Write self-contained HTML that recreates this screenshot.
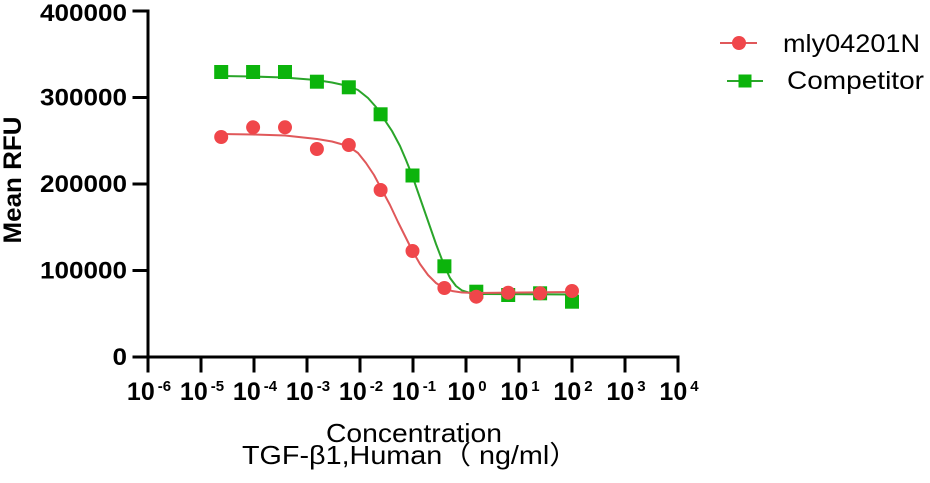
<!DOCTYPE html>
<html>
<head>
<meta charset="utf-8">
<style>
html,body{margin:0;padding:0;background:#fff;}
svg{display:block;}
text{font-family:"Liberation Sans","Noto Sans CJK SC",Arial,sans-serif;fill:#000;}
</style>
</head>
<body>
<svg width="930" height="483" viewBox="0 0 930 483" xmlns="http://www.w3.org/2000/svg">
  <!-- axes -->
  <g stroke="#000" stroke-width="3" fill="none" stroke-linecap="square">
    <line x1="148" y1="11" x2="148" y2="357"/>
    <line x1="148" y1="357" x2="678" y2="357"/>
    <line x1="134" y1="11" x2="148" y2="11"/>
    <line x1="134" y1="97.5" x2="148" y2="97.5"/>
    <line x1="134" y1="184" x2="148" y2="184"/>
    <line x1="134" y1="270.5" x2="148" y2="270.5"/>
    <line x1="134" y1="357" x2="148" y2="357"/>
    <line x1="148" y1="357" x2="148" y2="371"/>
    <line x1="201" y1="357" x2="201" y2="371"/>
    <line x1="254" y1="357" x2="254" y2="371"/>
    <line x1="307" y1="357" x2="307" y2="371"/>
    <line x1="360" y1="357" x2="360" y2="371"/>
    <line x1="413" y1="357" x2="413" y2="371"/>
    <line x1="466" y1="357" x2="466" y2="371"/>
    <line x1="519" y1="357" x2="519" y2="371"/>
    <line x1="572" y1="357" x2="572" y2="371"/>
    <line x1="625" y1="357" x2="625" y2="371"/>
    <line x1="678" y1="357" x2="678" y2="371"/>
  </g>

  <!-- y tick labels -->
  <g font-size="24" font-weight="bold" text-anchor="end">
    <text x="127" y="21" textLength="87" lengthAdjust="spacingAndGlyphs">400000</text>
    <text x="127" y="105.5" textLength="87" lengthAdjust="spacingAndGlyphs">300000</text>
    <text x="127" y="192" textLength="87" lengthAdjust="spacingAndGlyphs">200000</text>
    <text x="127" y="278.5" textLength="87" lengthAdjust="spacingAndGlyphs">100000</text>
    <text x="127" y="365" textLength="14.5" lengthAdjust="spacingAndGlyphs">0</text>
  </g>

  <!-- x tick labels -->
  <g font-size="25" font-weight="bold" text-anchor="middle">
    <text x="149" y="400">10<tspan dx="3" dy="-9" font-size="15">-6</tspan></text>
    <text x="202" y="400">10<tspan dx="3" dy="-9" font-size="15">-5</tspan></text>
    <text x="255" y="400">10<tspan dx="3" dy="-9" font-size="15">-4</tspan></text>
    <text x="308" y="400">10<tspan dx="3" dy="-9" font-size="15">-3</tspan></text>
    <text x="361" y="400">10<tspan dx="3" dy="-9" font-size="15">-2</tspan></text>
    <text x="414" y="400">10<tspan dx="3" dy="-9" font-size="15">-1</tspan></text>
    <text x="467" y="400">10<tspan dx="3" dy="-9" font-size="15">0</tspan></text>
    <text x="520" y="400">10<tspan dx="3" dy="-9" font-size="15">1</tspan></text>
    <text x="573" y="400">10<tspan dx="3" dy="-9" font-size="15">2</tspan></text>
    <text x="626" y="400">10<tspan dx="3" dy="-9" font-size="15">3</tspan></text>
    <text x="679" y="400">10<tspan dx="3" dy="-9" font-size="15">4</tspan></text>
  </g>

  <!-- y axis title -->
  <text x="21" y="180" font-size="25" font-weight="bold" text-anchor="middle" transform="rotate(-90 21 180)" textLength="127" lengthAdjust="spacingAndGlyphs">Mean RFU</text>

  <!-- x axis titles -->
  <text x="326" y="442" font-size="26" textLength="176" lengthAdjust="spacingAndGlyphs">Concentration</text>
  <text x="242" y="464" font-size="26" textLength="336" lengthAdjust="spacingAndGlyphs">TGF-β1,Human（ ng/ml）</text>

  <!-- green curve -->
  <polyline fill="none" stroke="#2aa52a" stroke-width="2" stroke-linejoin="round"
    points="221,76 252,76.5 284,77.5 316,80 332,82.5 348,86 358,90 368,98 376,107 384,119 392,131 400,146 406,160 412,175 420,198 428,221 436,244 444,265 450,278 456,286 462,290.5 470,293 480,294 572,294.5"/>
  <g fill="#0cb40c">
    <rect x="214.2" y="65" width="14" height="14"/>
    <rect x="246.1" y="65" width="14" height="14"/>
    <rect x="278" y="65" width="14" height="14"/>
    <rect x="309.9" y="74.7" width="14" height="14"/>
    <rect x="341.8" y="80.3" width="14" height="14"/>
    <rect x="373.6" y="107.3" width="14" height="14"/>
    <rect x="405.5" y="168.5" width="14" height="14"/>
    <rect x="437.4" y="259.3" width="14" height="14"/>
    <rect x="469.3" y="284.7" width="14" height="14"/>
    <rect x="501.2" y="288" width="14" height="14"/>
    <rect x="533.1" y="286.3" width="14" height="14"/>
    <rect x="565" y="294.7" width="14" height="14"/>
  </g>

  <!-- red curve -->
  <polyline fill="none" stroke="#e0585a" stroke-width="2" stroke-linejoin="round"
    points="221,134 253,134.5 285,135.5 317,139 332,141.5 348,146 358,153 366,163 374,175 382,190 390,205 398,222 406,238 412,250 420,264 428,275 436,283 444,288 452,291 462,292.5 476,293 572,292"/>
  <g fill="#f0464a">
    <circle cx="221.2" cy="137" r="7"/>
    <circle cx="253.1" cy="127.3" r="7"/>
    <circle cx="285" cy="127.3" r="7"/>
    <circle cx="316.9" cy="149" r="7"/>
    <circle cx="348.8" cy="145" r="7"/>
    <circle cx="380.6" cy="190" r="7"/>
    <circle cx="412.5" cy="251" r="7"/>
    <circle cx="444.4" cy="288" r="7"/>
    <circle cx="476.3" cy="296.7" r="7"/>
    <circle cx="508.2" cy="292.7" r="7"/>
    <circle cx="540.1" cy="293.3" r="7"/>
    <circle cx="572" cy="291" r="7"/>
  </g>

  <!-- legend -->
  <line x1="720" y1="43" x2="757" y2="43" stroke="#e0585a" stroke-width="2"/>
  <circle cx="739" cy="43" r="7" fill="#f0464a"/>
  <text x="783" y="52" font-size="25" textLength="137" lengthAdjust="spacingAndGlyphs">mly04201N</text>

  <line x1="727" y1="81" x2="763" y2="81" stroke="#2aa52a" stroke-width="2"/>
  <rect x="738.5" y="74.5" width="13" height="13" fill="#0cb40c"/>
  <text x="787" y="89" font-size="25" textLength="137" lengthAdjust="spacingAndGlyphs">Competitor</text>
</svg>
</body>
</html>
